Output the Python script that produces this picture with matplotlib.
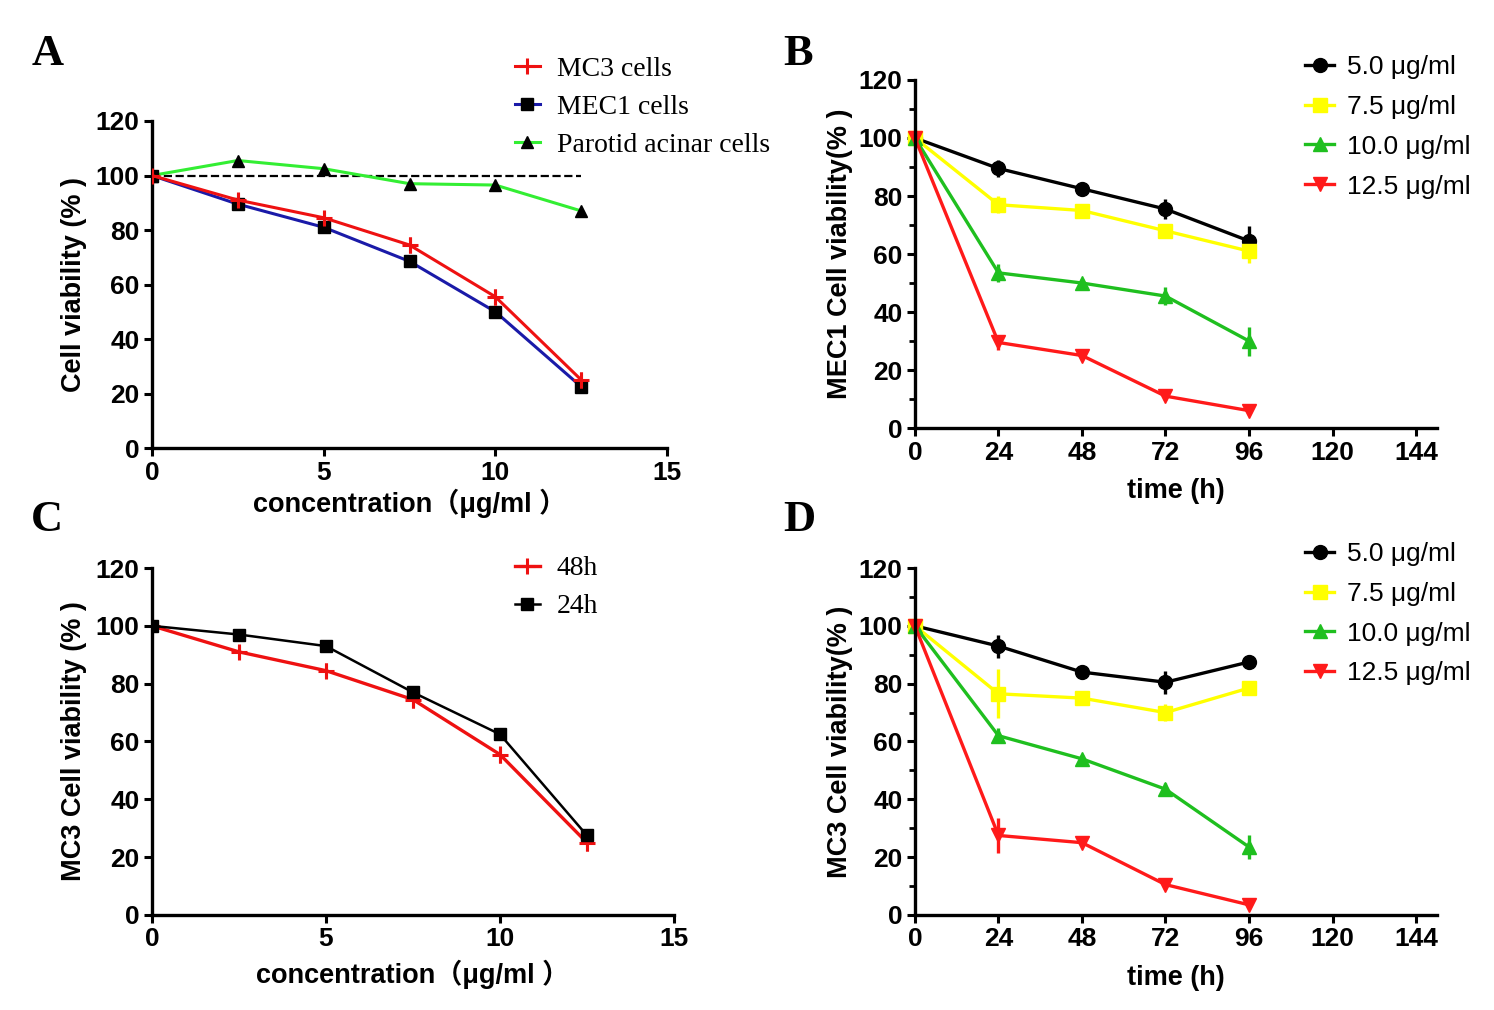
import matplotlib.pyplot as plt
from matplotlib.ticker import MultipleLocator

# concentration series (panels A, C)
conc = [0, 2.5, 5, 7.5, 10, 12.5]
mc3_48h = [100, 91, 84.5, 74.5, 55.5, 25]
mc3_48h_err = [2, 2.5, 2.5, 3, 3, 3]
mec1 = [100, 89.5, 81, 68.5, 50, 22.5]
parotid = [100, 105.5, 102.5, 97, 96.5, 87]
mc3_24h = [100, 97, 93, 77, 62.5, 27.5]

# time series (panels B, D)
hours = [0, 24, 48, 72, 96]
dose_labels = ['5.0 μg/ml', '7.5 μg/ml', '10.0 μg/ml', '12.5 μg/ml']
mec1_time = [
    [100, 89.5, 82.5, 75.5, 64.5],
    [100, 77, 75, 68, 61],
    [100, 53.5, 50, 45.5, 30],
    [100, 29.5, 25, 11, 6],
]
mec1_time_err = [
    [0, 3, 1, 3.5, 5],
    [0, 3, 2, 2.5, 4],
    [0, 3, 1.5, 3, 5],
    [0, 2.5, 1, 1.5, 1],
]
mc3_time = [
    [100, 93, 84, 80.5, 87.5],
    [100, 76.5, 75, 70, 78.5],
    [100, 62, 54, 43.5, 23.5],
    [100, 27.5, 25, 10.5, 3.5],
]
mc3_time_err = [
    [0, 4, 1, 4, 2],
    [0, 8.5, 1.5, 3, 2.5],
    [0, 2.5, 1.5, 2, 4],
    [0, 6, 1, 1.5, 1],
]

dose_colors = ['black', '#ffff00', '#1fbf1f', '#ff1a1a']
dose_markers = ['o', 's', '^', 'v']

SANS = ['Liberation Sans', 'Noto Sans CJK SC', 'DejaVu Sans']
SERIF = ['Liberation Serif', 'DejaVu Serif']
TICK_FS = 19
LABEL_FS = 19.5

fig = plt.figure(figsize=(14.94, 10.10), dpi=100)

axA = fig.add_axes([0.1017, 0.5564, 0.3448, 0.3238])
axB = fig.add_axes([0.6124, 0.5762, 0.3494, 0.3446])
axC = fig.add_axes([0.1017, 0.0941, 0.3494, 0.3435])
axD = fig.add_axes([0.6124, 0.0941, 0.3494, 0.3435])


def style(ax, xlim, xticks, minor_y):
    ax.set_xlim(*xlim)
    ax.set_ylim(0, 120)
    ax.set_xticks(xticks)
    ax.set_yticks(range(0, 121, 20))
    if minor_y:
        ax.yaxis.set_minor_locator(MultipleLocator(10))
    ax.spines['top'].set_visible(False)
    ax.spines['right'].set_visible(False)
    for s in ('left', 'bottom'):
        ax.spines[s].set_linewidth(2.4)
    ax.tick_params(which='major', length=6, width=2.2, direction='out', pad=3)
    ax.tick_params(which='minor', length=4, width=2.0, direction='out')
    for lab in ax.get_xticklabels() + ax.get_yticklabels():
        lab.set_family(SANS)
        lab.set_fontweight('bold')
        lab.set_fontsize(TICK_FS)


# Panel A
axA.plot([0, 12.5], [100, 100], '--', color='black', lw=1.6)
pA, = axA.plot(conc, parotid, color='#33ee33', lw=2.2, marker='^', ms=8,
               mfc='black', mec='black', zorder=3)
mA, = axA.plot(conc, mec1, color='#1a1aa8', lw=2.2, marker='s', ms=9,
               mfc='black', mec='black', zorder=3)
eA = axA.errorbar(conc, mc3_48h, yerr=mc3_48h_err, color='#ee1111', lw=2.2,
                  marker='+', ms=12, mew=2.2, capsize=0, elinewidth=2.2,
                  zorder=4)
style(axA, (0, 15), [0, 5, 10, 15], False)
axA.set_xlabel('concentration（μg/ml ）', family=SANS, fontweight='bold',
               fontsize=LABEL_FS, labelpad=3)
axA.set_ylabel('Cell viability (% )', family=SANS, fontweight='bold',
               fontsize=LABEL_FS, labelpad=6)
axA.legend([eA.lines[0], mA, pA], ['MC3 cells', 'MEC1 cells', 'Parotid acinar cells'],
           loc='upper left', bbox_to_anchor=(0.3447, 0.944),
           bbox_transform=fig.transFigure, frameon=False,
           prop={'family': SERIF, 'size': 20}, handlelength=0.9,
           handletextpad=0.6, labelspacing=0.45, borderpad=0, borderaxespad=0)


def time_panel(ax, vals, errs, ylabel, legend_y):
    handles = []
    for v, e, c, m in zip(vals, errs, dose_colors, dose_markers):
        cont = ax.errorbar(hours, v, yerr=e, color=c, lw=2.4, marker=m, ms=10,
                           capsize=0, elinewidth=2.4, clip_on=False)
        handles.append(cont.lines[0])
    style(ax, (0, 150), [0, 24, 48, 72, 96, 120, 144], True)
    ax.set_xlabel('time (h)', family=SANS, fontweight='bold', fontsize=LABEL_FS,
                  labelpad=10)
    ax.set_ylabel(ylabel, family=SANS, fontweight='bold', fontsize=LABEL_FS,
                  labelpad=4)
    ax.legend(handles, dose_labels, loc='upper left',
              bbox_to_anchor=(0.8735, legend_y),
              bbox_transform=fig.transFigure, frameon=False,
              prop={'family': SANS, 'size': 19}, handlelength=1.1,
              handletextpad=0.5, labelspacing=0.6, borderpad=0,
              borderaxespad=0)


time_panel(axB, mec1_time, mec1_time_err, 'MEC1 Cell viability(% )', 0.9455)
time_panel(axD, mc3_time, mc3_time_err, 'MC3 Cell viability(% )', 0.4634)

# Panel C
bC, = axC.plot(conc, mc3_24h, color='black', lw=1.8, marker='s', ms=9,
               zorder=3)
rC = axC.errorbar(conc, mc3_48h, yerr=mc3_48h_err, color='#ee1111', lw=2.4,
                  marker='+', ms=12, mew=2.2, capsize=0, elinewidth=2.2,
                  zorder=2)
style(axC, (0, 15), [0, 5, 10, 15], False)
axC.set_xlabel('concentration（μg/ml ）', family=SANS, fontweight='bold',
               fontsize=LABEL_FS, labelpad=6)
axC.set_ylabel('MC3 Cell viability (% )', family=SANS, fontweight='bold',
               fontsize=LABEL_FS, labelpad=6)
axC.legend([rC.lines[0], bC], ['48h', '24h'], loc='upper left',
           bbox_to_anchor=(0.3447, 0.4495), bbox_transform=fig.transFigure,
           frameon=False, prop={'family': SERIF, 'size': 20},
           handlelength=0.9, handletextpad=0.6, labelspacing=0.45,
           borderpad=0, borderaxespad=0)

# panel letters
for letter, x, y in [('A', 0.021, 0.936), ('B', 0.524, 0.936),
                     ('C', 0.021, 0.474), ('D', 0.524, 0.474)]:
    fig.text(x, y, letter, family=SERIF, fontweight='bold', fontsize=32)

fig.savefig('out.png', dpi=100)
